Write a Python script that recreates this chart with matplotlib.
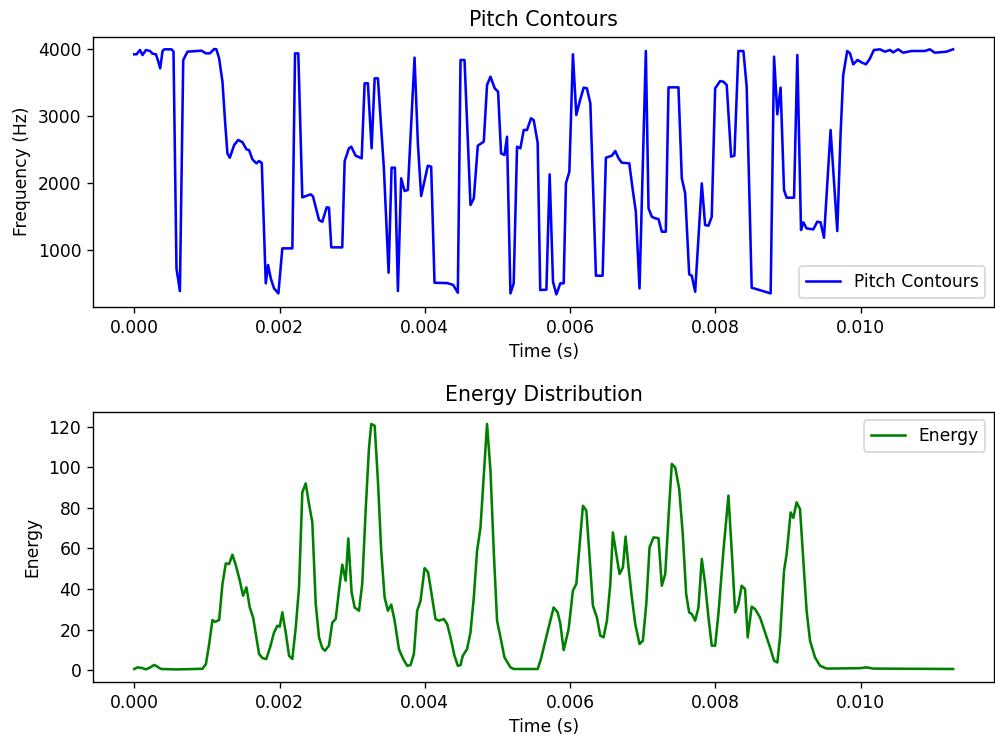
import numpy as np
import matplotlib
matplotlib.use("Agg")
import matplotlib.pyplot as plt

# Pitch contour: time (ms) and frequency (Hz)
pitch_t_ms = [
    0.000, 0.032, 0.078, 0.114, 0.161, 0.216, 0.252, 0.298, 0.320, 0.357,
    0.389, 0.412, 0.513, 0.540, 0.581, 0.628, 0.674, 0.733, 0.925, 0.986,
    1.041, 1.100, 1.131, 1.168, 1.214, 1.247, 1.282, 1.315, 1.375, 1.430,
    1.489, 1.544, 1.581, 1.626, 1.681, 1.718, 1.755, 1.810, 1.842, 1.879,
    1.924, 1.984, 2.038, 2.176, 2.213, 2.258, 2.313, 2.429, 2.460, 2.543,
    2.588, 2.649, 2.680, 2.712, 2.863, 2.896, 2.955, 2.987, 3.047, 3.130,
    3.171, 3.216, 3.267, 3.309, 3.354, 3.436, 3.501, 3.542, 3.588, 3.629,
    3.674, 3.721, 3.766, 3.858, 3.904, 3.949, 4.041, 4.087, 4.133, 4.307,
    4.389, 4.454, 4.491, 4.546, 4.628, 4.674, 4.729, 4.811, 4.856, 4.903,
    4.962, 5.008, 5.049, 5.096, 5.131, 5.178, 5.223, 5.269, 5.315, 5.361,
    5.406, 5.461, 5.498, 5.553, 5.588, 5.673, 5.718, 5.764, 5.810, 5.865,
    5.911, 5.942, 5.989, 6.038, 6.085, 6.131, 6.186, 6.231, 6.278, 6.355,
    6.447, 6.492, 6.575, 6.621, 6.667, 6.712, 6.814, 6.859, 6.904, 6.955,
    7.042, 7.079, 7.124, 7.171, 7.216, 7.262, 7.317, 7.354, 7.491, 7.537,
    7.583, 7.639, 7.674, 7.721, 7.812, 7.858, 7.904, 7.949, 7.996, 8.065,
    8.110, 8.155, 8.216, 8.261, 8.316, 8.385, 8.430, 8.499, 8.760, 8.807,
    8.852, 8.897, 8.944, 8.980, 9.082, 9.127, 9.178, 9.210, 9.255, 9.347,
    9.402, 9.447, 9.494, 9.585, 9.677, 9.722, 9.759, 9.814, 9.852, 9.897,
    9.956, 10.010, 10.072, 10.126, 10.181, 10.264, 10.333, 10.402, 10.447, 10.515,
    10.584, 10.698, 10.882, 10.951, 11.020, 11.180, 11.271,
]
pitch_hz = [
    3921, 3921, 3985, 3910, 3985, 3970, 3930, 3921, 3850, 3712,
    3970, 3995, 3995, 3960, 727, 388, 3836, 3960, 3975, 3935,
    3935, 4000, 3995, 3860, 3512, 2965, 2443, 2378, 2567, 2642,
    2610, 2503, 2490, 2354, 2294, 2328, 2300, 503, 776, 577,
    428, 353, 1025, 1025, 3935, 3935, 1786, 1831, 1800, 1448,
    1422, 1637, 1632, 1040, 1040, 2328, 2518, 2542, 2408, 2368,
    3488, 3488, 2518, 3562, 3562, 2219, 662, 2229, 2229, 388,
    2070, 1881, 1896, 3871, 2592, 1806, 2259, 2244, 512, 507,
    480, 363, 3836, 3836, 1672, 1771, 2557, 2617, 3463, 3587,
    3413, 3363, 2443, 2418, 2691, 353, 503, 2542, 2518, 2791,
    2791, 2965, 2940, 2600, 403, 408, 2129, 527, 338, 503,
    503, 1995, 2169, 3921, 3015, 3214, 3423, 3413, 3189, 617,
    617, 2378, 2408, 2478, 2368, 2303, 2294, 1920, 1572, 428,
    3970, 1622, 1497, 1473, 1463, 1274, 1274, 3428, 3428, 2070,
    1846, 637, 617, 378, 1995, 1373, 1363, 1497, 3413, 3522,
    3512, 3463, 2393, 2408, 3970, 3970, 3438, 438, 353, 3886,
    3025, 3423, 1896, 1781, 1781, 3910, 1299, 1413, 1323, 1308,
    1423, 1413, 1184, 2791, 1284, 2716, 3612, 3970, 3935, 3771,
    3836, 3801, 3771, 3856, 3985, 3995, 3960, 3985, 3950, 3995,
    3945, 3970, 3970, 3995, 3945, 3960, 3995,
]

# Short-time energy: time (ms) and energy
energy_t_ms = [
    0.000, 0.045, 0.106, 0.161, 0.220, 0.275, 0.320, 0.367, 0.595, 0.939,
    0.986, 1.031, 1.076, 1.109, 1.168, 1.214, 1.260, 1.306, 1.351, 1.398,
    1.453, 1.498, 1.544, 1.590, 1.636, 1.718, 1.764, 1.818, 1.869, 1.924,
    1.970, 2.003, 2.038, 2.085, 2.131, 2.176, 2.223, 2.268, 2.313, 2.360,
    2.405, 2.451, 2.498, 2.543, 2.588, 2.625, 2.680, 2.726, 2.773, 2.818,
    2.863, 2.910, 2.946, 2.992, 3.034, 3.093, 3.138, 3.185, 3.230, 3.262,
    3.309, 3.354, 3.399, 3.446, 3.491, 3.537, 3.584, 3.643, 3.702, 3.757,
    3.803, 3.849, 3.894, 3.941, 3.996, 4.045, 4.100, 4.147, 4.192, 4.261,
    4.307, 4.353, 4.408, 4.454, 4.491, 4.522, 4.581, 4.628, 4.674, 4.719,
    4.766, 4.821, 4.856, 4.903, 4.948, 4.994, 5.041, 5.096, 5.178, 5.223,
    5.553, 5.598, 5.681, 5.773, 5.828, 5.865, 5.911, 5.979, 6.038, 6.085,
    6.131, 6.176, 6.223, 6.268, 6.313, 6.368, 6.415, 6.460, 6.506, 6.553,
    6.588, 6.635, 6.680, 6.726, 6.763, 6.804, 6.849, 6.896, 6.955, 7.001,
    7.048, 7.093, 7.148, 7.216, 7.262, 7.309, 7.354, 7.399, 7.446, 7.501,
    7.550, 7.597, 7.638, 7.674, 7.721, 7.766, 7.812, 7.858, 7.904, 7.949,
    7.996, 8.041, 8.110, 8.179, 8.224, 8.271, 8.316, 8.361, 8.408, 8.444,
    8.499, 8.546, 8.614, 8.660, 8.705, 8.752, 8.807, 8.852, 8.889, 8.944,
    8.980, 9.035, 9.072, 9.117, 9.164, 9.210, 9.255, 9.302, 9.371, 9.440,
    9.530, 9.989, 10.079, 10.172, 11.271,
]
energy = [
    0.6, 1.4, 1.1, 0.4, 1.4, 2.6, 1.7, 0.6, 0.4, 0.7,
    3.0, 12.9, 24.7, 23.8, 24.7, 42.5, 52.6, 52.3, 56.9, 51.7,
    44.1, 36.7, 40.8, 30.9, 26.0, 8.0, 6.0, 5.5, 11.2, 18.6,
    21.9, 21.5, 28.5, 18.6, 7.1, 5.5, 21.1, 40.8, 87.6, 92.0,
    81.9, 72.8, 32.6, 16.2, 10.9, 9.6, 12.1, 23.5, 25.2, 39.2,
    52.0, 44.1, 64.9, 38.3, 30.9, 29.3, 42.5, 78.6, 109.0, 121.3,
    120.4, 93.3, 58.9, 35.9, 29.3, 32.3, 24.4, 10.4, 5.5, 2.2,
    2.5, 8.0, 29.3, 34.2, 50.3, 48.2, 35.9, 25.2, 24.4, 25.2,
    22.8, 16.2, 7.1, 2.2, 2.5, 7.1, 10.4, 18.6, 35.9, 58.9,
    70.3, 101.6, 121.3, 98.3, 58.9, 24.4, 16.2, 6.3, 1.4, 0.6,
    0.6, 5.5, 17.8, 30.9, 28.5, 22.8, 9.9, 20.3, 39.2, 42.5,
    62.2, 81.0, 78.6, 55.6, 31.8, 26.0, 17.0, 16.2, 24.4, 42.5,
    67.9, 57.2, 47.4, 50.6, 65.8, 50.6, 35.9, 22.8, 12.9, 14.5,
    32.6, 60.5, 65.4, 65.1, 41.6, 47.4, 75.3, 101.6, 99.9, 89.3,
    67.1, 37.5, 28.5, 27.7, 24.4, 30.9, 54.8, 42.5, 26.0, 12.1,
    12.1, 27.7, 58.9, 86.0, 58.9, 28.5, 32.6, 41.6, 40.0, 16.2,
    31.3, 30.1, 26.0, 21.1, 16.2, 11.2, 4.7, 3.8, 16.2, 49.0,
    57.2, 77.7, 75.0, 82.7, 79.4, 53.9, 29.3, 14.5, 6.3, 2.2,
    0.8, 1.0, 1.4, 0.8, 0.6,
]

pitch_t = np.array(pitch_t_ms) * 1e-3
energy_t = np.array(energy_t_ms) * 1e-3

fig = plt.figure(figsize=(995 / 123, 742 / 123), dpi=123)

ax1 = fig.add_axes([0.0938, 0.5867, 0.9052, 0.3638])
ax1.plot(pitch_t, pitch_hz, color="blue", label="Pitch Contours")
ax1.set_title("Pitch Contours")
ax1.set_xlabel("Time (s)")
ax1.set_ylabel("Frequency (Hz)")
ax1.legend(loc="lower right")

ax2 = fig.add_axes([0.0938, 0.0813, 0.9052, 0.3639])
ax2.plot(energy_t, energy, color="green", label="Energy")
ax2.set_title("Energy Distribution")
ax2.set_xlabel("Time (s)")
ax2.set_ylabel("Energy")
ax2.legend(loc="upper right")

fig.savefig("out.png", dpi=123)
